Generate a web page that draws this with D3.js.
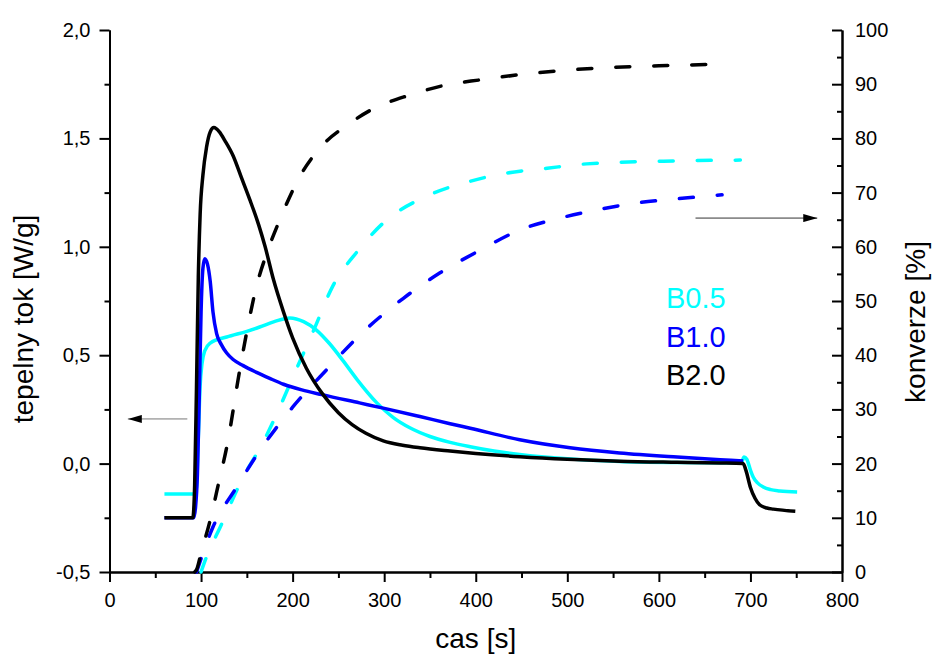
<!DOCTYPE html>
<meta charset="utf-8">
<script src="https://d3js.org/d3.v7.min.js"></script>
<style>
  body { margin: 0; background: #fff; }
  text { font-family: "Liberation Sans", Arial, sans-serif; }
</style>
<div id="chart"></div>
<script>

// heat flow [W/g] vs time [s]  (left axis)
var heatB05 = [[60,-0.14],[93,-0.14],[95,-0.11],[97,0.12],[99,0.36],[101,0.46],[104,0.52],[110,0.556],[128,0.584],[150,0.61],[164,0.63],[180,0.655],[197,0.672],[212,0.655],[226,0.616],[240,0.555],[255,0.475],[270,0.39],[292,0.28],[310,0.212],[328,0.165],[350,0.125],[372,0.098],[394,0.078],[420,0.058],[448,0.042],[500,0.022],[557,0.01],[620,0.005],[690,0.003],[693,0.03],[696,0.02],[700,-0.03],[703,-0.062],[708,-0.09],[714,-0.108],[722,-0.12],[732,-0.126],[751,-0.131]];
var heatB10 = [[60,-0.25],[92,-0.25],[94,-0.2],[96,-0.05],[98,0.3],[100,0.7],[102,0.9],[104,0.945],[107,0.92],[110,0.84],[113,0.7],[117,0.6],[122,0.55],[128,0.51],[135,0.48],[146,0.452],[160,0.422],[175,0.393],[190,0.366],[210,0.34],[232,0.318],[273,0.28],[299,0.256],[339,0.217],[372,0.184],[394,0.163],[448,0.11],[503,0.073],[557,0.049],[620,0.03],[667,0.018],[692,0.012]];
var heatB20 = [[60,-0.25],[91,-0.25],[93,-0.1],[95,0.35],[97,0.86],[99,1.15],[102,1.33],[106,1.46],[110,1.53],[114,1.55],[120,1.53],[126,1.49],[135,1.42],[144,1.32],[153,1.22],[163,1.1],[170,1.0],[179,0.85],[190,0.7],[200,0.58],[215,0.44],[232,0.325],[250,0.235],[265,0.18],[280,0.14],[299,0.105],[320,0.085],[339,0.073],[372,0.058],[400,0.047],[448,0.032],[500,0.02],[557,0.011],[620,0.006],[667,0.003],[692,0.0],[695,-0.03],[700,-0.11],[705,-0.16],[710,-0.19],[718,-0.205],[725,-0.21],[749,-0.22]];

// conversion [%] vs time [s]  (right axis)
var convB05 = [[100,0],[106,2.8],[121,8.3],[146,17.5],[168,24],[183,29.3],[203,37],[223,44.6],[244,52.8],[270,59],[299,64.4],[350,69.6],[394,72.1],[434,73.6],[478,74.5],[521,75.3],[605,75.8],[689,76.0]];
var convB10 = [[95,0],[97,1],[113,8.3],[139,15.7],[161,21.6],[200,30.4],[237,37.3],[277,44.3],[321,50.5],[361,55.2],[405,59.4],[448,63.1],[492,65.3],[532,66.8],[576,68.1],[616,68.8],[669,69.6]];
var convB20 = [[93,0],[95,0.4],[100,3.5],[110,9.6],[120,17],[128,23],[143,38],[161,53],[173,59.4],[186,65],[208,73],[233,78.8],[260,82.5],[285,85.2],[328,88],[369,89.9],[405,90.8],[450,91.8],[536,93.0],[600,93.4],[674,93.7]];

var names = ["B0.5", "B1.0", "B2.0"];
var colors = ["#00ffff", "#0000ff", "#000000"];

var xTicks = [0, 100, 200, 300, 400, 500, 600, 700, 800];
var yLeftTicks = [-0.5, 0, 0.5, 1.0, 1.5, 2.0];
var yRightTicks = [0, 10, 20, 30, 40, 50, 60, 70, 80, 90, 100];

var width = 934, height = 659;
var margin = {top: 30, right: 92, bottom: 87, left: 109.5};

var svg = d3.select("#chart")
  .append("svg")
    .attr("width", width)
    .attr("height", height);

var x = d3.scaleLinear().domain([0, 800]).range([margin.left, width - margin.right]);
var yL = d3.scaleLinear().domain([-0.5, 2.0]).range([height - margin.bottom, margin.top]);
var yR = d3.scaleLinear().domain([0, 100]).range([height - margin.bottom, margin.top]);

var comma = function(d) { return d3.format(".1f")(d).replace(".", ",").replace("\u2212", "-"); };

function styleAxis(g, size) {
  g.select(".domain").attr("stroke-width", 2);
  g.selectAll(".tick line").attr("stroke-width", 2);
  g.selectAll("text").style("font-size", size + "px").attr("fill", "#000");
}

// minor ticks
svg.append("g")
  .attr("transform", "translate(0," + yL.range()[0] + ")")
  .call(d3.axisBottom(x).tickValues(d3.range(50, 800, 100)).tickSize(6).tickSizeOuter(0).tickFormat(""))
  .call(styleAxis, 20);
svg.append("g")
  .attr("transform", "translate(" + margin.left + ",0)")
  .call(d3.axisLeft(yL).tickValues(d3.range(-0.25, 2, 0.5)).tickSize(5).tickSizeOuter(0).tickFormat(""))
  .call(styleAxis, 20);
svg.append("g")
  .attr("transform", "translate(" + x.range()[1] + ",0)")
  .call(d3.axisRight(yR).tickValues(d3.range(5, 100, 10)).tickSize(-5).tickSizeOuter(0).tickFormat(""))
  .call(styleAxis, 20);

// main axes
svg.append("g")
  .attr("transform", "translate(0," + yL.range()[0] + ")")
  .call(d3.axisBottom(x).tickValues(xTicks).tickSize(10).tickSizeOuter(0).tickPadding(11))
  .call(styleAxis, 20);
svg.append("g")
  .attr("transform", "translate(" + margin.left + ",0)")
  .call(d3.axisLeft(yL).tickValues(yLeftTicks).tickSize(10).tickSizeOuter(0).tickPadding(9).tickFormat(comma))
  .call(styleAxis, 20);
svg.append("g")
  .attr("transform", "translate(" + x.range()[1] + ",0)")
  .call(d3.axisRight(yR).tickValues(yRightTicks).tickSize(-10).tickSizeOuter(0).tickPadding(13))
  .call(styleAxis, 20);

// axis titles
svg.append("text")
  .attr("x", (x.range()[0] + x.range()[1]) / 2)
  .attr("y", 648)
  .attr("text-anchor", "middle")
  .style("font-size", "28px")
  .text("cas [s]");
svg.append("text")
  .attr("transform", "translate(33,319)rotate(-90)")
  .attr("text-anchor", "middle")
  .style("font-size", "28px")
  .text("tepelny tok [W/g]");
svg.append("text")
  .attr("transform", "translate(925,322)rotate(-90)")
  .attr("text-anchor", "middle")
  .style("font-size", "28px")
  .text("konverze [%]");

// curves
var lineL = d3.line().x(function(d) { return x(d[0]); }).y(function(d) { return yL(d[1]); }).curve(d3.curveMonotoneX);
var lineR = d3.line().x(function(d) { return x(d[0]); }).y(function(d) { return yR(d[1]); }).curve(d3.curveMonotoneX);

[convB05, convB10, convB20].forEach(function(s, i) {
  svg.append("path")
    .datum(s)
    .attr("d", lineR)
    .attr("fill", "none")
    .attr("stroke", colors[i])
    .attr("stroke-width", 3.5)
    .attr("stroke-linecap", "round")
    .attr("stroke-dasharray", "14,24");
});

[heatB05, heatB10, heatB20].forEach(function(s, i) {
  svg.append("path")
    .datum(s)
    .attr("d", lineL)
    .attr("fill", "none")
    .attr("stroke", colors[i])
    .attr("stroke-width", 3.5)
    .attr("stroke-linejoin", "round");
});

// legend
names.forEach(function(n, i) {
  svg.append("text")
    .attr("x", 666)
    .attr("y", 308 + i * 38.5)
    .attr("fill", colors[i])
    .style("font-size", "29px")
    .text(n);
});

// arrows pointing to the axes
svg.append("defs").append("marker")
    .attr("id", "head")
    .attr("viewBox", "0 0 14 8")
    .attr("refX", 14).attr("refY", 4)
    .attr("markerUnits", "userSpaceOnUse")
    .attr("markerWidth", 14).attr("markerHeight", 8)
    .attr("orient", "auto")
  .append("path")
    .attr("d", "M0,0L14,4L0,8Z")
    .attr("fill", "#000");

svg.append("line")
  .attr("x1", x(85)).attr("x2", x(20))
  .attr("y1", yL(0.206)).attr("y2", yL(0.206))
  .attr("stroke", "#777").attr("stroke-width", 1)
  .attr("marker-end", "url(#head)");
svg.append("line")
  .attr("x1", x(640)).attr("x2", x(773))
  .attr("y1", yR(65.3)).attr("y2", yR(65.3))
  .attr("stroke", "#333").attr("stroke-width", 1)
  .attr("marker-end", "url(#head)");

</script>
